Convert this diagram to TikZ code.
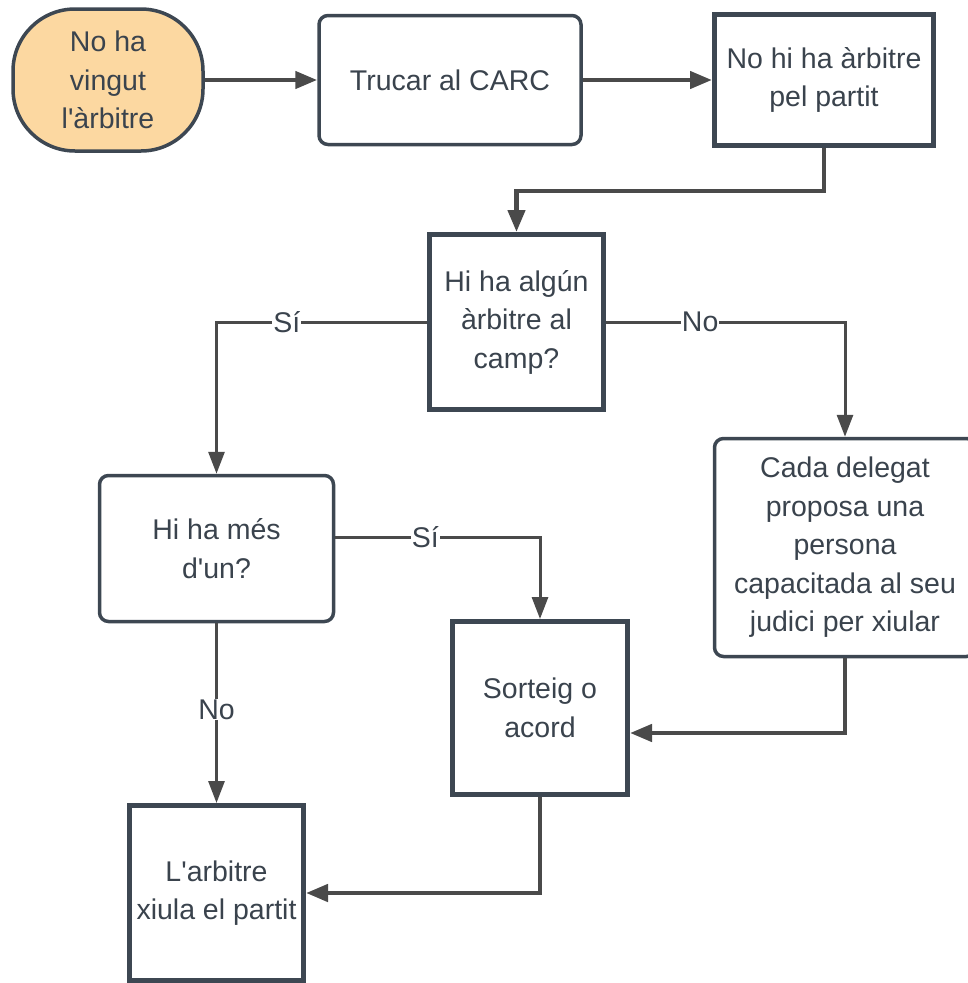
\documentclass[tikz,border=0pt]{standalone}
\usepackage{fontspec}
\setmainfont{Liberation Sans}
\usetikzlibrary{arrows.meta}
\definecolor{bord}{HTML}{3D4752}
\definecolor{arr}{HTML}{4A4A4A}
\definecolor{txt}{HTML}{3A434D}
\definecolor{orangefill}{HTML}{FCD8A1}
\begin{document}
\begin{tikzpicture}[x=1pt,y=-1pt,
 base/.style={draw=bord, text=txt, align=center, font=\fontsize{28.5}{38.5}\selectfont, inner sep=0pt, anchor=center},
 thickbox/.style={base, line width=5pt, fill=white},
 roundbox/.style={base, line width=3.5pt, rounded corners=9pt, fill=white},
 term/.style={base, line width=3.5pt, rounded corners=62pt, fill=orangefill},
 conn/.style={draw=arr, line width=4.5pt, -{Triangle[length=22pt,width=17pt]}},
 thinconn/.style={draw=arr, line width=3pt, -{Triangle[length=22pt,width=16pt]}},
 lbl/.style={fill=white, text=txt, font=\fontsize{28.5}{30}\selectfont, inner sep=1pt}
]
\useasboundingbox (0,0) rectangle (967,983);
\node[term, minimum width=190pt, minimum height=142pt] (n1) at (108,80) {No ha\\vingut\\l\textquotesingle àrbitre};
\node[roundbox, minimum width=262pt, minimum height=129pt] (n2) at (450,80) {Trucar al CARC};
\node[thickbox, minimum width=219pt, minimum height=131pt] (n3) at (824,80) {No hi ha àrbitre\\pel partit};
\node[thickbox, minimum width=174pt, minimum height=175pt] (n4) at (516.5,322) {Hi ha algún\\àrbitre al\\camp?};
\node[roundbox, minimum width=234pt, minimum height=146pt] (n5) at (216.5,548.5) {Hi ha més\\d\textquotesingle un?};
\node[roundbox, minimum width=261pt, minimum height=218pt] (n6) at (845,547.5) {Cada delegat\\proposa una\\persona\\capacitada al seu\\judici per xiular};
\node[thickbox, minimum width=175pt, minimum height=173pt] (n7) at (540,708) {Sorteig o\\acord};
\node[thickbox, minimum width=174pt, minimum height=175pt] (n8) at (216.5,893) {L\textquotesingle arbitre\\xiula el partit};

\draw[conn] (n1.east) -- (n2.west);
\draw[conn] (n2.east) -- (n3.west);
\draw[conn] (n3.south) -- (n3.south |- 0,191) -| (n4.north);
\draw[thinconn] (n4.west) -| (n5.north) node[lbl, pos=0.333] {Sí};
\draw[thinconn] (n4.east) -| (n6.north) node[lbl, pos=0.197] {No};
\draw[thinconn] (n5.east |- 0,537) -| (n7.north) node[lbl, pos=0.22] {Sí};
\draw[thinconn] (n5.south) -- (n8.north) node[lbl, pos=0.48] {No};
\draw[conn] (n6.south) |- (n7.east |- 0,733);
\draw[conn] (n7.south) |- (n8.east);
\end{tikzpicture}
\end{document}
